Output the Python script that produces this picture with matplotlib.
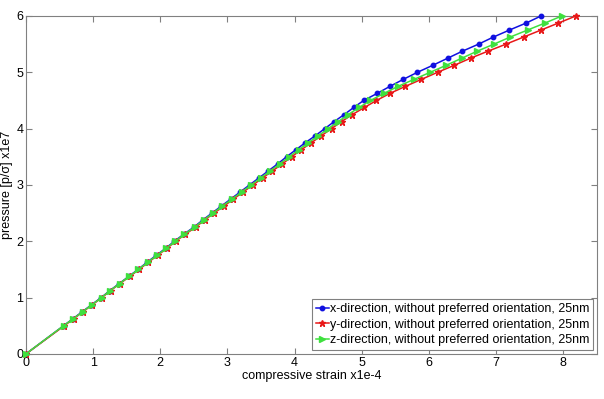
import numpy as np
import matplotlib
matplotlib.use("Agg")
import matplotlib.pyplot as plt

plt.rcParams['font.family'] = ['Liberation Sans', 'DejaVu Sans']

# pressure levels (x1e7)
pressure = [0, 0.5, 0.625, 0.75, 0.875, 1.0, 1.125, 1.25, 1.375, 1.5, 1.625, 1.75,
            1.875, 2.0, 2.125, 2.25, 2.375, 2.5, 2.625, 2.75, 2.875, 3.0, 3.125,
            3.25, 3.375, 3.5, 3.625, 3.75, 3.875, 4.0, 4.125, 4.25, 4.375, 4.5,
            4.625, 4.75, 4.875, 5.0, 5.125, 5.25, 5.375, 5.5, 5.625, 5.75, 5.875, 6.0]

# compressive strain (x1e-4)
strain_x = [0, 0.56, 0.70, 0.84, 0.98, 1.12, 1.25, 1.39, 1.53, 1.67, 1.80, 1.94,
            2.08, 2.21, 2.35, 2.50, 2.63, 2.77, 2.91, 3.05, 3.19, 3.33, 3.47,
            3.61, 3.75, 3.88, 4.02, 4.16, 4.31, 4.45, 4.59, 4.74, 4.88, 5.03,
            5.23, 5.42, 5.62, 5.83, 6.06, 6.28, 6.50, 6.74, 6.96, 7.20, 7.45, 7.67]
strain_y = [0, 0.57, 0.71, 0.85, 0.99, 1.13, 1.26, 1.40, 1.545, 1.685, 1.82, 1.96,
            2.10, 2.23, 2.375, 2.525, 2.66, 2.80, 2.95, 3.09, 3.235, 3.38, 3.525,
            3.67, 3.82, 3.955, 4.10, 4.25, 4.40, 4.55, 4.70, 4.86, 5.04, 5.22,
            5.42, 5.65, 5.89, 6.13, 6.38, 6.62, 6.88, 7.15, 7.41, 7.67, 7.93, 8.19]
strain_z = [0, 0.56, 0.705, 0.845, 0.985, 1.125, 1.255, 1.395, 1.535, 1.675, 1.81, 1.95,
            2.09, 2.22, 2.36, 2.51, 2.645, 2.785, 2.925, 3.07, 3.21, 3.355, 3.495,
            3.64, 3.78, 3.92, 4.06, 4.205, 4.355, 4.50, 4.65, 4.80, 4.96, 5.13,
            5.33, 5.54, 5.78, 6.02, 6.26, 6.49, 6.72, 6.97, 7.21, 7.47, 7.73, 7.98]

labels = ['x-direction, without preferred orientation, 25nm',
          'y-direction, without preferred orientation, 25nm',
          'z-direction, without preferred orientation, 25nm']

fig = plt.figure(figsize=(6.04, 3.99), dpi=100)
ax = fig.add_axes([0.043, 0.113, 0.945, 0.847])

ax.plot(strain_x, pressure, color='#1010e0', marker='o', ms=3.2, lw=1.1,
        label=labels[0], clip_on=False, zorder=3)
ax.plot(strain_y, pressure, color='#e81818', marker='*', ms=4.5, lw=1.1,
        label=labels[1], clip_on=False, zorder=3)
ax.plot(strain_z, pressure, color='#3ee03e', marker='>', ms=4.2, lw=1.1,
        label=labels[2], clip_on=False, zorder=3)

ax.set_xlim(0, 8.5)
ax.set_ylim(0, 6)
ax.set_xticks(range(0, 9))
ax.set_yticks(range(0, 7))
ax.tick_params(direction='in', top=True, right=True, length=4, color='#808080',
               labelsize=9, pad=2)
for s in ax.spines.values():
    s.set_color('#808080')
    s.set_linewidth(0.8)

ax.set_xlabel('compressive strain x1e-4', fontsize=9, labelpad=1)
ax.set_ylabel('pressure [p/σ] x1e7', fontsize=9, labelpad=2)

leg = ax.legend(loc='lower right', fontsize=9, fancybox=False, framealpha=1,
                edgecolor='#808080', handlelength=1.0, handletextpad=0.1,
                borderpad=0.3, labelspacing=0.3, borderaxespad=0.3)
leg.get_frame().set_linewidth(0.8)
leg.set_zorder(5)

fig.savefig('out.png', dpi=100)
